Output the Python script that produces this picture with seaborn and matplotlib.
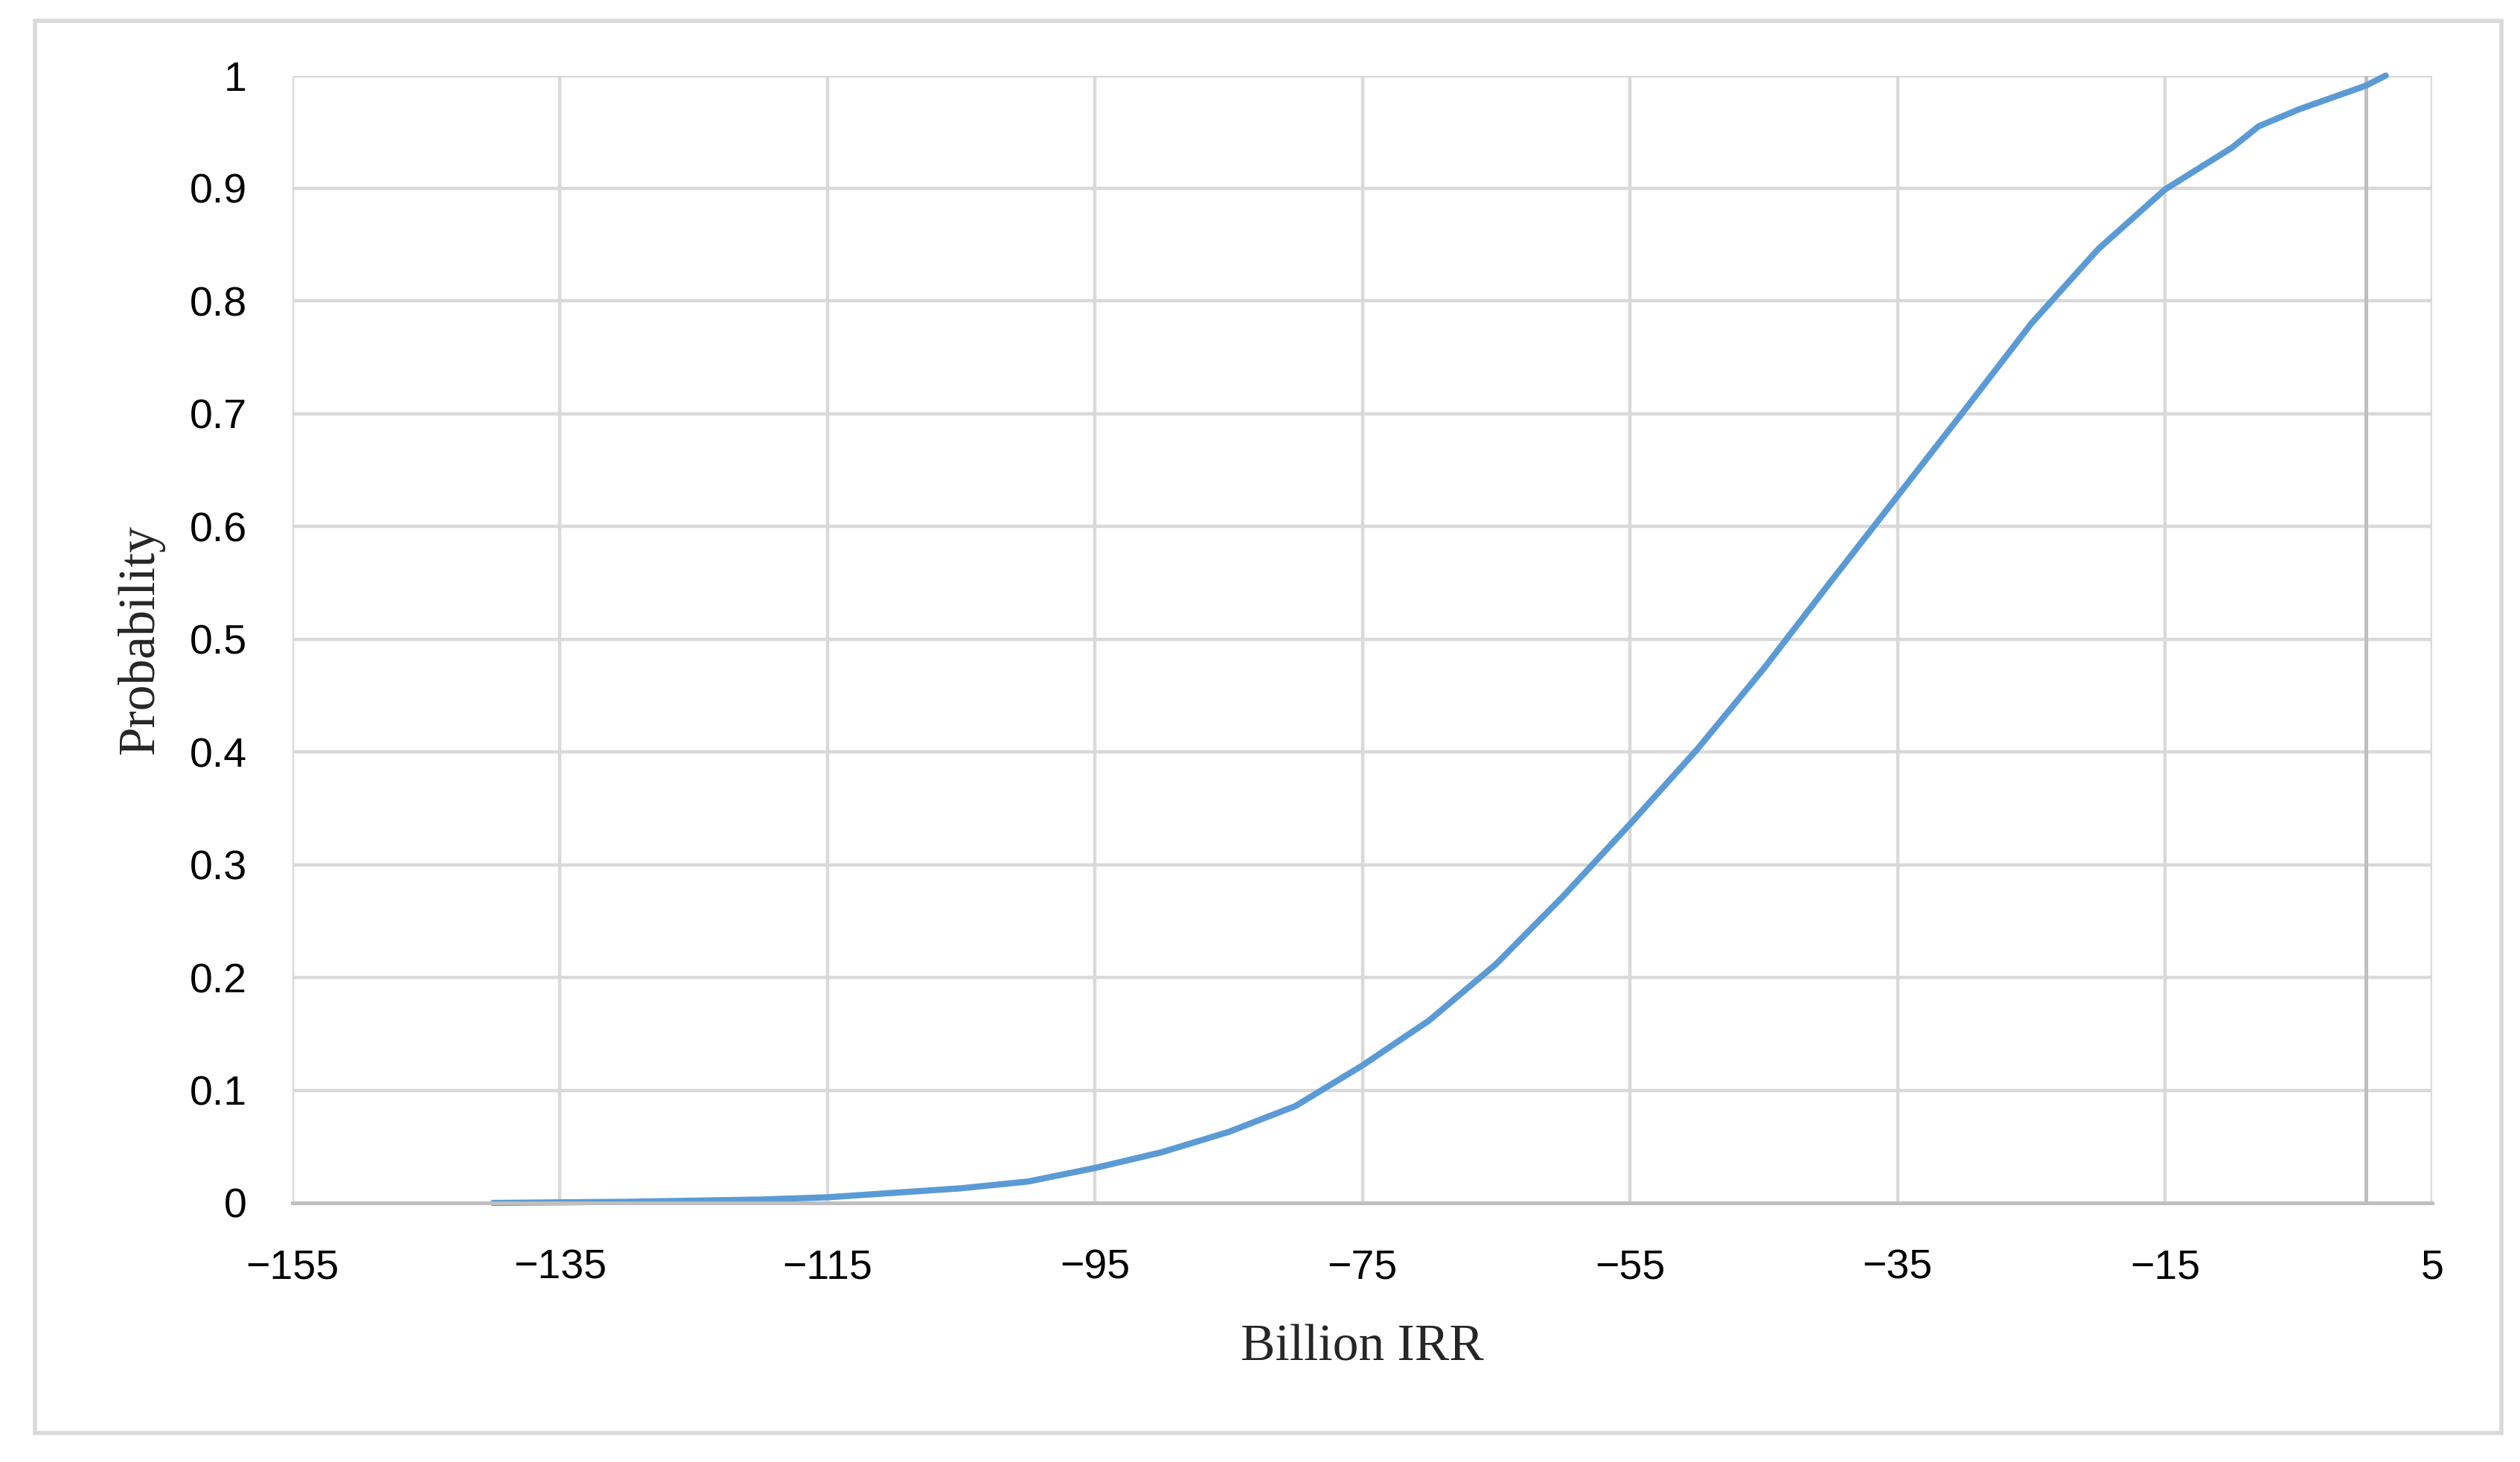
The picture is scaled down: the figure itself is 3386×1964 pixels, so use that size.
import seaborn as sns
import matplotlib.pyplot as plt
import pandas as pd
from matplotlib.patches import Rectangle

# cumulative probability curve (billion IRR)
billion_irr = [-140, -135, -130, -125, -120, -115, -110, -105, -100, -95,
               -90, -85, -80, -75, -70, -65, -60, -55, -50, -45,
               -40, -35, -30, -25, -20, -15, -10, -8, -5, 0, 1.5]
probability = [0.0, 0.0005, 0.001, 0.002, 0.003, 0.005, 0.009, 0.013, 0.019, 0.031,
               0.045, 0.063, 0.086, 0.122, 0.162, 0.212, 0.272, 0.336, 0.402, 0.474,
               0.551, 0.627, 0.703, 0.78, 0.846, 0.899, 0.936, 0.955, 0.97, 0.991, 1.0]

x_ticks = [-155, -135, -115, -95, -75, -55, -35, -15, 5]
x_tick_labels = ['\u2212155', '\u2212135', '\u2212115', '\u221295', '\u221275',
                 '\u221255', '\u221235', '\u221215', '5']
y_ticks = [0, 0.1, 0.2, 0.3, 0.4, 0.5, 0.6, 0.7, 0.8, 0.9, 1]
y_tick_labels = ['0', '0.1', '0.2', '0.3', '0.4', '0.5', '0.6', '0.7', '0.8', '0.9', '1']

df = pd.DataFrame({'Billion IRR': billion_irr, 'Probability': probability})

sns.set_theme(style='whitegrid')
plt.rcParams['font.family'] = ['Liberation Sans', 'DejaVu Sans']

fig = plt.figure(figsize=(16.935, 9.82), dpi=200)
ax = fig.add_axes([0.116, 0.1772, 0.849, 0.7711])

sns.lineplot(data=df, x='Billion IRR', y='Probability', ax=ax,
             color='#5B9BD5', linewidth=3.0, clip_on=False)

ax.set_xlim(-155, 5)
ax.set_ylim(0, 1)
ax.set_xticks(x_ticks)
ax.set_xticklabels(x_tick_labels)
ax.set_yticks(y_ticks)
ax.set_yticklabels(y_tick_labels)
ax.tick_params(axis='both', length=0, labelsize=20, labelcolor='#000000')
ax.tick_params(axis='x', pad=22)
ax.tick_params(axis='y', pad=22)

ax.grid(True, color='#d9d9d9', linewidth=1.6)
for side in ['top', 'right', 'left']:
    ax.spines[side].set_visible(False)
ax.spines['bottom'].set_color('#bfbfbf')
ax.spines['bottom'].set_linewidth(1.8)
ax.axvline(0, color='#bfbfbf', linewidth=1.8, zorder=1)

ax.set_xlabel('Billion IRR', family='Liberation Serif', fontsize=25, labelpad=18)
ax.set_ylabel('Probability', family='Liberation Serif', fontsize=25, labelpad=12)

# light grey frame around the whole chart
fig.patches.append(Rectangle((0.0139, 0.0199), 0.9784, 0.9659, transform=fig.transFigure,
                             fill=False, edgecolor='#d9d9d9', linewidth=2.0))

fig.savefig('out.png', dpi=200, facecolor='white')
plt.close()
